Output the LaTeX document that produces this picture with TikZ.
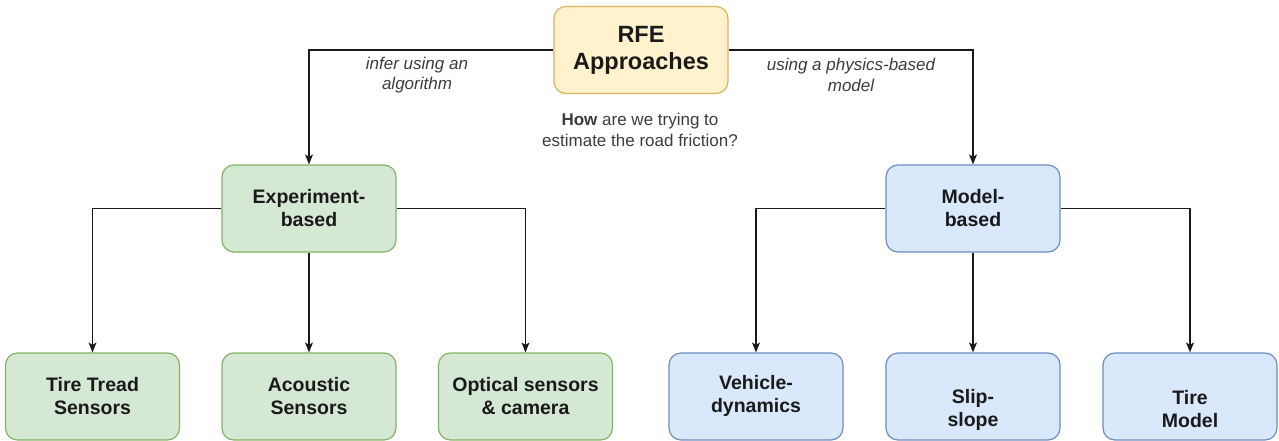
\documentclass[tikz,border=0pt]{standalone}
\usepackage{fontspec}
\setmainfont{Liberation Sans}
\usetikzlibrary{arrows.meta}
\definecolor{gfill}{HTML}{D5E8D4}
\definecolor{gline}{HTML}{82B366}
\definecolor{bfill}{HTML}{DAE8FC}
\definecolor{bline}{HTML}{6C8EBF}
\definecolor{yfill}{HTML}{FFF2CC}
\definecolor{yline}{HTML}{D6B656}
\definecolor{txt}{HTML}{1A1A1A}
\begin{document}
\begin{tikzpicture}[x=1pt,y=-1pt,
  boxtext/.style={font=\bfseries\fontsize{19.5}{23}\selectfont, align=center, inner sep=0pt, text=txt},
  box/.style={boxtext, rounded corners=12pt, minimum width=174pt, minimum height=87pt, line width=1.2pt},
  gbox/.style={box, fill=gfill, draw=gline},
  bbox/.style={box, fill=bfill, draw=bline},
  ybox/.style={box, fill=yfill, draw=yline, font=\bfseries\fontsize{23.5}{27}\selectfont},
  conn/.style={line width=1.2pt, draw=txt, -{Stealth[length=10pt,width=8pt,inset=2.5pt]}},
  lbl/.style={font=\itshape\fontsize{17}{20.5}\selectfont, align=center, text=txt!85, inner sep=0pt},
  note/.style={font=\fontsize{17}{20.5}\selectfont, align=center, text=txt!85, inner sep=0pt}]
\useasboundingbox (0,0) rectangle (1279,441);
\node[ybox] (rfe) at (641,50) {RFE\\Approaches};
\node[gbox] (exp) at (309,208.5) {Experiment-\\based};
\node[bbox] (mod) at (973,208.5) {Model-\\based};
\node[gbox] (tt) at (92.5,396.5) {Tire Tread\\Sensors};
\node[gbox] (ac) at (309,396.5) {Acoustic\\Sensors};
\node[gbox] (op) at (525.5,396.5) {Optical sensors\\\&{} camera};
\node[bbox, label={[boxtext, yshift=1pt]center:Vehicle-\\dynamics}] (vd) at (756,396.5) {};
\node[bbox, label={[boxtext, yshift=-13pt]center:Slip-\\slope}] (ss) at (973,396.5) {};
\node[bbox, label={[boxtext, yshift=-13pt]center:Tire\\Model}] (tm) at (1190,396.5) {};
\node[lbl] (l1) at (417,75) {infer using an\\algorithm};
\node[lbl] (l2) at (851,75) {using a physics-based\\model};
\node[note] (q) at (640,130) {\textbf{How} are we trying to\\estimate the road friction?};
\draw[conn] (rfe.west) -| (exp.north);
\draw[conn] (rfe.east) -| (mod.north);
\draw[conn] (exp.west) -| (tt.north);
\draw[conn] (exp.south) -- (ac.north);
\draw[conn] (exp.east) -| (op.north);
\draw[conn] (mod.west) -| (vd.north);
\draw[conn] (mod.south) -- (ss.north);
\draw[conn] (mod.east) -| (tm.north);
\end{tikzpicture}
\end{document}
